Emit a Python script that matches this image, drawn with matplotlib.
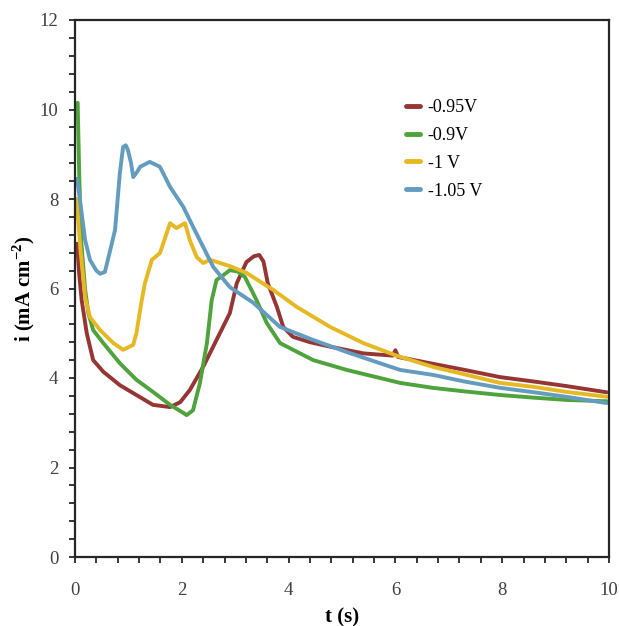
import matplotlib
matplotlib.use("Agg")
import matplotlib.pyplot as plt
from matplotlib.ticker import MultipleLocator

# -0.95 V
t_095 = [0.04, 0.08, 0.125, 0.22, 0.34, 0.53, 0.84, 1.15, 1.46, 1.78, 1.97, 2.15, 2.4,
         2.65, 2.9, 3.03, 3.21, 3.35, 3.45, 3.53, 3.61, 3.78, 3.9, 4.08, 4.4, 4.78, 5.4,
         5.95, 6.0, 6.05, 6.65, 7.3, 7.96, 8.6, 9.2, 9.96]
i_095 = [7.0, 6.3, 5.74, 5.0, 4.4, 4.14, 3.84, 3.62, 3.4, 3.35, 3.46, 3.73, 4.25,
         4.85, 5.45, 6.12, 6.59, 6.72, 6.75, 6.6, 6.12, 5.59, 5.14, 4.92, 4.8, 4.7, 4.55,
         4.5, 4.62, 4.47, 4.33, 4.18, 4.02, 3.92, 3.82, 3.68]

# -0.9 V
t_090 = [0.05, 0.08, 0.12, 0.19, 0.25, 0.34, 0.53, 0.84, 1.15, 1.46, 1.78, 2.03, 2.09,
         2.21, 2.34, 2.47, 2.56, 2.65, 2.78, 2.9, 3.05, 3.18, 3.4, 3.59, 3.84, 4.46, 5.09,
         5.71, 6.09, 6.7, 7.3, 7.96, 8.6, 9.2, 9.96]
i_090 = [10.15, 8.5, 7.0, 5.97, 5.45, 5.07, 4.78, 4.33, 3.96, 3.69, 3.4, 3.22, 3.17,
         3.28, 3.89, 4.78, 5.74, 6.19, 6.3, 6.41, 6.38, 6.26, 5.74, 5.23, 4.78, 4.4, 4.18,
         4.0, 3.89, 3.78, 3.7, 3.62, 3.56, 3.51, 3.48]

# -1 V
t_100 = [0.03, 0.1, 0.19, 0.28, 0.47, 0.72, 0.9, 1.09, 1.15, 1.25, 1.31, 1.44, 1.59,
         1.78, 1.9, 2.06, 2.15, 2.28, 2.4, 2.53, 2.9, 3.21, 3.71, 4.15, 4.78, 5.4, 6.02,
         6.7, 7.3, 7.96, 8.6, 9.2, 9.96]
i_100 = [8.0, 6.9, 5.8, 5.36, 5.07, 4.78, 4.63, 4.74, 5.0, 5.74, 6.12, 6.64, 6.79,
         7.46, 7.35, 7.46, 7.08, 6.7, 6.57, 6.64, 6.5, 6.35, 5.97, 5.59, 5.14, 4.78, 4.5,
         4.25, 4.08, 3.89, 3.8, 3.69, 3.58]

# -1.05 V
t_105 = [0.04, 0.09, 0.19, 0.28, 0.4, 0.47, 0.56, 0.66, 0.75, 0.84, 0.9, 0.95, 0.99,
         1.05, 1.09, 1.16, 1.22, 1.4, 1.59, 1.78, 2.03, 2.21, 2.4, 2.59, 2.9, 3.34, 3.84,
         4.46, 5.09, 5.71, 6.09, 6.7, 7.3, 7.96, 8.6, 9.2, 9.96]
i_105 = [8.45, 8.0, 7.08, 6.64, 6.4, 6.33, 6.37, 6.86, 7.31, 8.58, 9.16, 9.2, 9.1,
         8.8, 8.49, 8.6, 8.72, 8.83, 8.72, 8.27, 7.82, 7.38, 6.93, 6.48, 6.03, 5.68, 5.14,
         4.85, 4.58, 4.33, 4.18, 4.07, 3.92, 3.78, 3.68, 3.58, 3.44]

labels = ["-0.95V", "-0.9V", "-1 V", "-1.05 V"]
colors = ["#953634", "#4ea33c", "#e6b824", "#639cbe"]

plt.rcParams["font.family"] = ["Liberation Serif", "DejaVu Serif"]
plt.rcParams["mathtext.fontset"] = "custom"
plt.rcParams["mathtext.rm"] = "Liberation Serif"
plt.rcParams["mathtext.bf"] = "Liberation Serif:bold"

fig = plt.figure(figsize=(6.19, 6.26), dpi=100)
ax = fig.add_axes([75 / 619, 1 - 557 / 626, 534 / 619, 537 / 626])

series = [(t_095, i_095), (t_090, i_090), (t_100, i_100), (t_105, i_105)]
for (t, i), lab, c in zip(series, labels, colors):
    ax.plot(t, i, color=c, linewidth=2.8, label=lab,
            solid_joinstyle="round", solid_capstyle="round")

ax.set_xlim(0, 10)
ax.set_ylim(0, 12)
ax.xaxis.set_major_locator(MultipleLocator(2))
ax.xaxis.set_minor_locator(MultipleLocator(0.4))
ax.yaxis.set_major_locator(MultipleLocator(2))
ax.yaxis.set_minor_locator(MultipleLocator(0.4))
ax.tick_params(which="both", direction="out", length=4, width=1.3,
               labelsize=13.5, labelcolor="#404040", color="#262626")
ax.tick_params(axis="x", pad=14)
ax.tick_params(axis="y", pad=8)
ax.tick_params(top=False, right=False, which="both")
for s in ax.spines.values():
    s.set_linewidth(1.6)
    s.set_color("#262626")

ax.set_xlabel("t (s)", fontsize=15, fontweight="bold", labelpad=6)
ax.set_ylabel("i (mA cm$^{\\mathbf{-2}}$)", fontsize=15, fontweight="bold", labelpad=2)

leg = ax.legend(loc="upper left", bbox_to_anchor=(397 / 619, 1 - 90 / 626),
                bbox_transform=fig.transFigure, frameon=False, fontsize=13,
                handlelength=0.75, handletextpad=0.45, labelspacing=0.6, borderpad=0)
for h in leg.get_lines():
    h.set_linewidth(3.5)
    h.set_solid_capstyle("round")

fig.savefig("out.png", dpi=100)
